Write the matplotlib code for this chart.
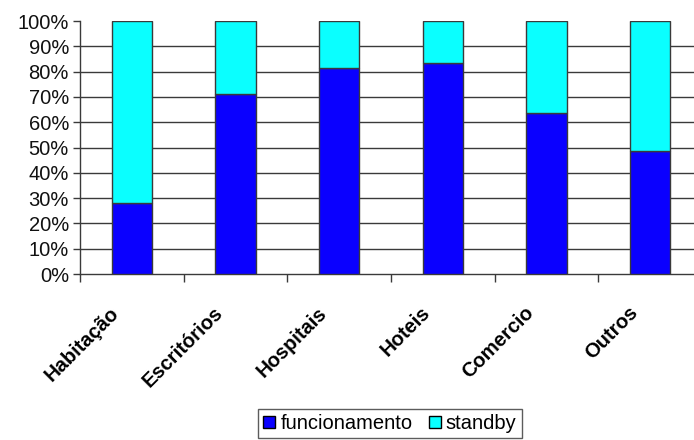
import matplotlib
matplotlib.use("Agg")
import matplotlib.pyplot as plt
import matplotlib.transforms as mtransforms
from matplotlib.patches import Patch

# ----------------------------------------------------------------------
# DATA (percent of consumption)
# ----------------------------------------------------------------------
categories = ["Habitação", "Escritórios", "Hospitais", "Hoteis", "Comercio", "Outros"]
funcionamento = [28.0, 71.0, 81.5, 83.5, 63.5, 48.5]
standby = [72.0, 29.0, 18.5, 16.5, 36.5, 51.5]
y_ticks = [0, 10, 20, 30, 40, 50, 60, 70, 80, 90, 100]

BLUE = "#0a00ff"
CYAN = "#0affff"
EDGE = "#3a3a3a"
GRID = "#3a3a3a"

plt.rcParams["font.family"] = ["Liberation Sans", "DejaVu Sans"]

fig = plt.figure(figsize=(6.94, 4.40), dpi=100)
# axes runs a bit past the right edge, like the cropped original
ax = fig.add_axes([80 / 694, 166 / 440, 622 / 694, 253 / 440])

x = list(range(len(categories)))
w = 0.386
ax.bar(x, funcionamento, width=w, color=BLUE, edgecolor=EDGE, linewidth=1.0, zorder=3,
       label="funcionamento")
ax.bar(x, standby, width=w, bottom=funcionamento, color=CYAN, edgecolor=EDGE,
       linewidth=1.0, zorder=3, label="standby")

# gridlines (none at 100%)
for yv in y_ticks[1:-1]:
    ax.axhline(yv, color=GRID, lw=1.0, zorder=1)

ax.set_xlim(-0.5, len(categories) - 0.5)
ax.set_ylim(0, 100)

ax.set_yticks(y_ticks)
ax.set_yticklabels([f"{v}%" for v in y_ticks], fontsize=14.5, color="#111111")
ax.tick_params(axis="y", length=5, width=1.0, color=GRID, pad=3)

# major ticks at category boundaries, labels on minor ticks at centres
ax.set_xticks([i - 0.5 for i in x])
ax.set_xticklabels([])
ax.tick_params(axis="x", which="major", length=6, width=1.0, color=GRID)
ax.set_xticks(x, minor=True)
ax.set_xticklabels(categories, minor=True, rotation=45, ha="right", va="top",
                   fontsize=14.5, fontweight="bold")
ax.tick_params(axis="x", which="minor", length=0, pad=21)
offset = mtransforms.ScaledTranslation(-9 / 100, 0, fig.dpi_scale_trans)
for lab in ax.get_xticklabels(minor=True):
    lab.set_transform(lab.get_transform() + offset)

for s in ["top", "right"]:
    ax.spines[s].set_visible(False)
for s in ["left", "bottom"]:
    ax.spines[s].set_color(GRID)
    ax.spines[s].set_linewidth(1.0)

handles = [
    Patch(facecolor=BLUE, edgecolor="black", label="funcionamento"),
    Patch(facecolor=CYAN, edgecolor="black", label="standby"),
]
leg = fig.legend(handles=handles, loc="upper center", bbox_to_anchor=(390 / 694, 1 - 409 / 440),
                 ncol=2, fontsize=14.5, frameon=True, fancybox=False, edgecolor="#333333",
                 handlelength=0.6, handleheight=0.6, handletextpad=0.25, columnspacing=0.8,
                 borderpad=0.25, borderaxespad=0)
leg.get_frame().set_linewidth(1.0)

fig.savefig("out.png", dpi=100)
